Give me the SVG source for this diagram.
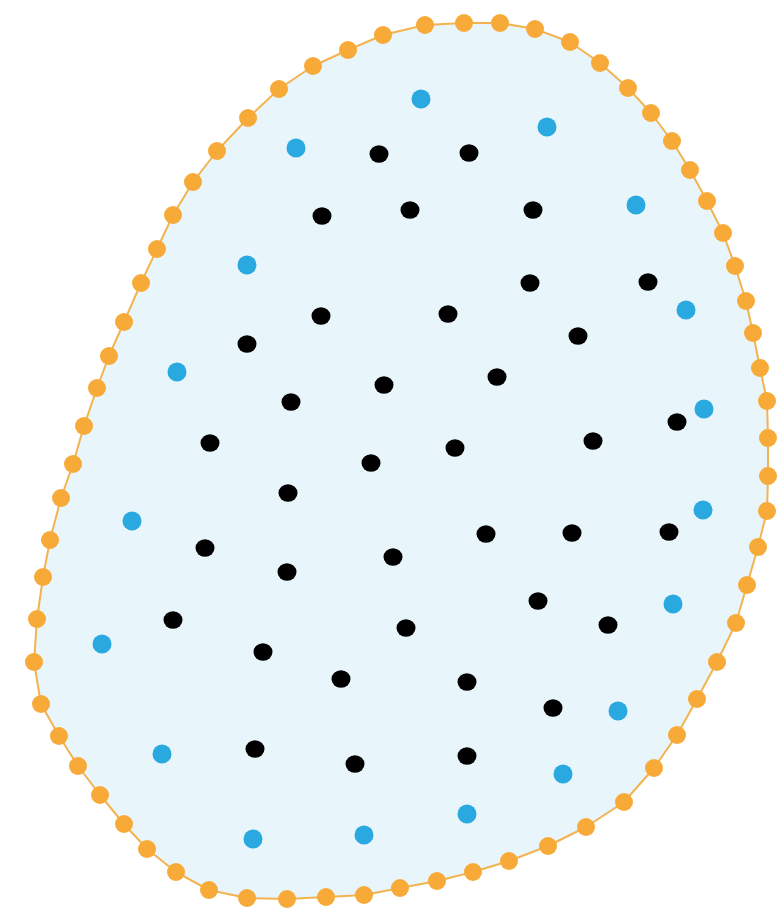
<svg xmlns="http://www.w3.org/2000/svg" width="780" height="913" viewBox="0 0 780 913">
<style>
.region{fill:#e8f5fb;stroke:#f2b350;stroke-width:2;stroke-linejoin:round}
.b{fill:#f8aa38}
.s{fill:#2aa8e0}
.k{fill:#000}
</style>
<rect width="780" height="913" fill="#fff"/>
<g id="region">
<polygon class="region" points="383,35 425,25 464,23 500,23 535,29 570,42 600,63 628,88 651,113 672,141 690,170 707,201 723,233 735,266 746,301 753,333 760,368 767,401 768,438 768,476 767,511 758,547 747,585 736,623 717,662 697,699 677,735 654,768 624,802 586,827 548,846 509,861 473,872 437,881 400,888 364,895 326,897 287,899 247,898 209,890 176,872 147,849 124,824 100,795 78,766 59,736 41,704 34,662 37,619 43,577 50,540 61,498 73,464 84,426 97,388 109,356 124,322 141,283 157,249 173,215 193,182 217,151 248,118 279,89 313,66 348,50"/>
</g>
<g id="boundary-points" class="b">
<circle cx="383" cy="35" r="9"/><circle cx="425" cy="25" r="9"/><circle cx="464" cy="23" r="9"/><circle cx="500" cy="23" r="9"/><circle cx="535" cy="29" r="9"/><circle cx="570" cy="42" r="9"/><circle cx="600" cy="63" r="9"/><circle cx="628" cy="88" r="9"/><circle cx="651" cy="113" r="9"/><circle cx="672" cy="141" r="9"/><circle cx="690" cy="170" r="9"/><circle cx="707" cy="201" r="9"/><circle cx="723" cy="233" r="9"/><circle cx="735" cy="266" r="9"/><circle cx="746" cy="301" r="9"/><circle cx="753" cy="333" r="9"/><circle cx="760" cy="368" r="9"/><circle cx="767" cy="401" r="9"/><circle cx="768" cy="438" r="9"/><circle cx="768" cy="476" r="9"/><circle cx="767" cy="511" r="9"/><circle cx="758" cy="547" r="9"/><circle cx="747" cy="585" r="9"/><circle cx="736" cy="623" r="9"/><circle cx="717" cy="662" r="9"/><circle cx="697" cy="699" r="9"/><circle cx="677" cy="735" r="9"/><circle cx="654" cy="768" r="9"/><circle cx="624" cy="802" r="9"/><circle cx="586" cy="827" r="9"/><circle cx="548" cy="846" r="9"/><circle cx="509" cy="861" r="9"/><circle cx="473" cy="872" r="9"/><circle cx="437" cy="881" r="9"/><circle cx="400" cy="888" r="9"/><circle cx="364" cy="895" r="9"/><circle cx="326" cy="897" r="9"/><circle cx="287" cy="899" r="9"/><circle cx="247" cy="898" r="9"/><circle cx="209" cy="890" r="9"/><circle cx="176" cy="872" r="9"/><circle cx="147" cy="849" r="9"/><circle cx="124" cy="824" r="9"/><circle cx="100" cy="795" r="9"/><circle cx="78" cy="766" r="9"/><circle cx="59" cy="736" r="9"/><circle cx="41" cy="704" r="9"/><circle cx="34" cy="662" r="9"/><circle cx="37" cy="619" r="9"/><circle cx="43" cy="577" r="9"/><circle cx="50" cy="540" r="9"/><circle cx="61" cy="498" r="9"/><circle cx="73" cy="464" r="9"/><circle cx="84" cy="426" r="9"/><circle cx="97" cy="388" r="9"/><circle cx="109" cy="356" r="9"/><circle cx="124" cy="322" r="9"/><circle cx="141" cy="283" r="9"/><circle cx="157" cy="249" r="9"/><circle cx="173" cy="215" r="9"/><circle cx="193" cy="182" r="9"/><circle cx="217" cy="151" r="9"/><circle cx="248" cy="118" r="9"/><circle cx="279" cy="89" r="9"/><circle cx="313" cy="66" r="9"/><circle cx="348" cy="50" r="9"/>
</g>
<g id="near-boundary-points" class="s">
<circle cx="421" cy="99" r="9.5"/><circle cx="547" cy="127" r="9.5"/><circle cx="296" cy="148" r="9.5"/><circle cx="636" cy="205" r="9.5"/><circle cx="247" cy="265" r="9.5"/><circle cx="686" cy="310" r="9.5"/><circle cx="177" cy="372" r="9.5"/><circle cx="704" cy="409" r="9.5"/><circle cx="132" cy="521" r="9.5"/><circle cx="703" cy="510" r="9.5"/><circle cx="673" cy="604" r="9.5"/><circle cx="102" cy="644" r="9.5"/><circle cx="618" cy="711" r="9.5"/><circle cx="162" cy="754" r="9.5"/><circle cx="563" cy="774" r="9.5"/><circle cx="467" cy="814" r="9.5"/><circle cx="364" cy="835" r="9.5"/><circle cx="253" cy="839" r="9.5"/>
</g>
<g id="interior-points" class="k">
<ellipse cx="379" cy="154" rx="9.5" ry="8.7"/><ellipse cx="469" cy="153" rx="9.5" ry="8.7"/><ellipse cx="322" cy="216" rx="9.5" ry="8.7"/><ellipse cx="410" cy="210" rx="9.5" ry="8.7"/><ellipse cx="533" cy="210" rx="9.5" ry="8.7"/><ellipse cx="530" cy="283" rx="9.5" ry="8.7"/><ellipse cx="648" cy="282" rx="9.5" ry="8.7"/><ellipse cx="321" cy="316" rx="9.5" ry="8.7"/><ellipse cx="448" cy="314" rx="9.5" ry="8.7"/><ellipse cx="578" cy="336" rx="9.5" ry="8.7"/><ellipse cx="247" cy="344" rx="9.5" ry="8.7"/><ellipse cx="384" cy="385" rx="9.5" ry="8.7"/><ellipse cx="497" cy="377" rx="9.5" ry="8.7"/><ellipse cx="291" cy="402" rx="9.5" ry="8.7"/><ellipse cx="210" cy="443" rx="9.5" ry="8.7"/><ellipse cx="371" cy="463" rx="9.5" ry="8.7"/><ellipse cx="455" cy="448" rx="9.5" ry="8.7"/><ellipse cx="593" cy="441" rx="9.5" ry="8.7"/><ellipse cx="677" cy="422" rx="9.5" ry="8.7"/><ellipse cx="288" cy="493" rx="9.5" ry="8.7"/><ellipse cx="205" cy="548" rx="9.5" ry="8.7"/><ellipse cx="287" cy="572" rx="9.5" ry="8.7"/><ellipse cx="393" cy="557" rx="9.5" ry="8.7"/><ellipse cx="486" cy="534" rx="9.5" ry="8.7"/><ellipse cx="572" cy="533" rx="9.5" ry="8.7"/><ellipse cx="669" cy="532" rx="9.5" ry="8.7"/><ellipse cx="173" cy="620" rx="9.5" ry="8.7"/><ellipse cx="406" cy="628" rx="9.5" ry="8.7"/><ellipse cx="538" cy="601" rx="9.5" ry="8.7"/><ellipse cx="608" cy="625" rx="9.5" ry="8.7"/><ellipse cx="263" cy="652" rx="9.5" ry="8.7"/><ellipse cx="341" cy="679" rx="9.5" ry="8.7"/><ellipse cx="467" cy="682" rx="9.5" ry="8.7"/><ellipse cx="553" cy="708" rx="9.5" ry="8.7"/><ellipse cx="255" cy="749" rx="9.5" ry="8.7"/><ellipse cx="355" cy="764" rx="9.5" ry="8.7"/><ellipse cx="467" cy="756" rx="9.5" ry="8.7"/>
</g>
</svg>
